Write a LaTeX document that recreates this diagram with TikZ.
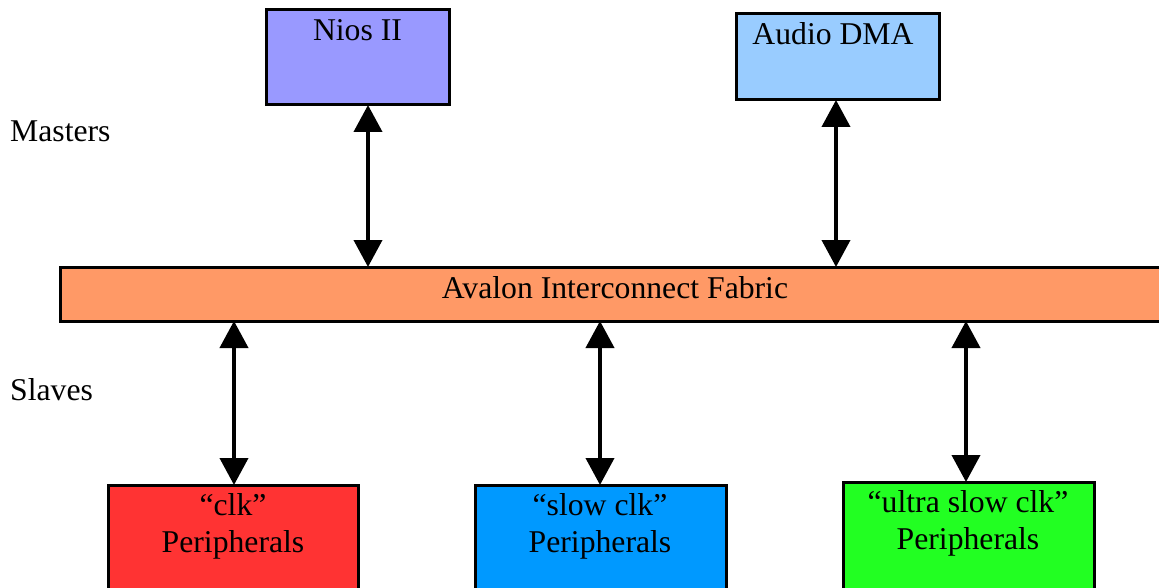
\documentclass[tikz,border=0pt]{standalone}
\usepackage{fontspec}
\setmainfont{Liberation Serif}
\usetikzlibrary{arrows.meta}
\definecolor{niosc}{HTML}{9999FF}
\definecolor{audioc}{HTML}{99CCFF}
\definecolor{barc}{HTML}{FF9966}
\definecolor{redc}{HTML}{FF3333}
\definecolor{bluec}{HTML}{0099FF}
\definecolor{greenc}{HTML}{22FF22}
\begin{document}
\begin{tikzpicture}[x=1pt,y=-1pt,
  box/.style={draw=black, line width=3pt, inner sep=0pt, outer sep=0pt, rectangle},
  lbl/.style={anchor=base, inner sep=0pt, font=\fontsize{31.7}{37}\selectfont},
  biarrow/.style={line width=4pt, {Triangle[width=28pt,length=27pt]}-{Triangle[width=28pt,length=27pt]}}]
\useasboundingbox (0,0) rectangle (1159,588);
\clip (0,0) rectangle (1159,588);
% boxes
\node[box, fill=niosc, minimum width=183pt, minimum height=95pt] (nios) at (357.5,57.5) {};
\node[box, fill=audioc, minimum width=203pt, minimum height=86pt] (audio) at (837.5,57) {};
\node[box, fill=barc, minimum width=1110pt, minimum height=54pt] (bar) at (615,294) {};
\node[box, fill=redc, minimum width=250pt, minimum height=115pt] (red) at (233,542.5) {};
\node[box, fill=bluec, minimum width=251pt, minimum height=115pt] (blue) at (600.5,542.5) {};
\node[box, fill=greenc, minimum width=251pt, minimum height=118pt] (green) at (968.5,541) {};
% texts
\node[lbl] (niost) at (357.5,41) {Nios II};
\node[lbl] (audiot) at (833,45) {Audio DMA};
\node[lbl] (bart) at (615,298) {Avalon Interconnect Fabric};
\node[lbl] (redt1) at (233,515) {“clk”};
\node[lbl] (redt2) at (233,552) {Peripherals};
\node[lbl] (bluet1) at (600,515) {“slow clk”};
\node[lbl] (bluet2) at (600,552) {Peripherals};
\node[lbl] (greent1) at (968,512.5) {“ultra slow clk”};
\node[lbl] (greent2) at (968,549) {Peripherals};
\node[lbl, anchor=base west] (masters) at (10,142) {Masters};
\node[lbl, anchor=base west] (slaves) at (10,400) {Slaves};
% connectors
\draw[biarrow] (nios.south -| 368,0) -- (bar.north -| 368,0);
\draw[biarrow] (audio.south -| 836,0) -- (bar.north -| 836,0);
\draw[biarrow] (bar.south -| 234,0) -- (red.north -| 234,0);
\draw[biarrow] (bar.south -| 600,0) -- (blue.north -| 600,0);
\draw[biarrow] (bar.south -| 966,0) -- (green.north -| 966,0);
\end{tikzpicture}
\end{document}
